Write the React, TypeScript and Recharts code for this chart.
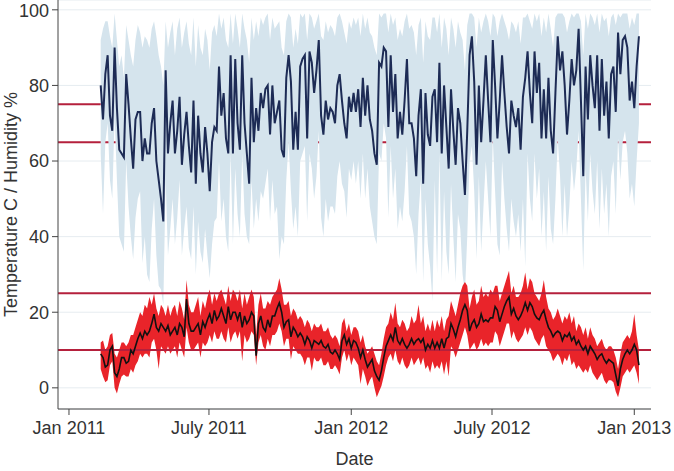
import React from 'react';
import { ComposedChart, Area, Line, XAxis, YAxis, CartesianGrid, ReferenceLine } from 'recharts';

// Day offsets since 1 Jan 2011 (sampled every 3 days)
const days = [
  41,44,47,50,53,56,59,62,65,68,
  71,74,77,80,83,86,89,92,95,98,
  101,104,107,110,113,116,119,122,125,128,
  131,134,137,140,143,146,149,152,155,158,
  161,164,167,170,173,176,179,182,185,188,
  191,194,197,200,203,206,209,212,215,218,
  221,224,227,230,233,236,239,242,245,248,
  251,254,257,260,263,266,269,272,275,278,
  281,284,287,290,293,296,299,302,305,308,
  311,314,317,320,323,326,329,332,335,338,
  341,344,347,350,353,356,359,362,365,368,
  371,374,377,380,383,386,389,392,395,398,
  401,404,407,410,413,416,419,422,425,428,
  431,434,437,440,443,446,449,452,455,458,
  461,464,467,470,473,476,479,482,485,488,
  491,494,497,500,503,506,509,512,515,518,
  521,524,527,530,533,536,539,542,545,548,
  551,554,557,560,563,566,569,572,575,578,
  581,584,587,590,593,596,599,602,605,608,
  611,614,617,620,623,626,629,632,635,638,
  641,644,647,650,653,656,659,662,665,668,
  671,674,677,680,683,686,689,692,695,698,
  701,704,707,710,713,716,719,722,725,728,731,734,737,
];

// Humidity % : daily mean, max, min
const humidityMean = [
  80,71,83,88,72,68,90,74,63,62,
  61,83,75,66,58,71,73,73,60,66,
  62,62,70,74,60,55,50,44,84,62,
  70,76,62,68,77,59,67,73,64,57,
  76,54,72,62,57,69,62,52,65,69,
  68,85,72,78,66,62,88,62,87,70,
  63,88,70,62,54,82,65,74,68,78,
  74,79,80,67,80,70,73,76,63,61,
  82,88,81,63,73,63,85,87,88,66,
  89,86,78,84,92,72,67,76,71,74,
  73,70,80,83,76,70,66,77,73,78,
  73,79,69,82,72,80,71,68,62,59,
  86,85,90,89,69,88,73,83,66,73,
  67,76,87,70,70,66,56,72,79,54,
  78,67,64,77,79,65,86,62,80,69,
  58,79,68,59,74,70,60,51,68,88,
  93,81,59,80,65,76,88,76,65,92,
  80,66,76,88,78,69,62,76,72,69,
  74,63,77,82,89,78,70,89,78,86,
  66,79,66,82,68,62,78,93,84,89,
  80,67,76,87,80,84,95,76,56,85,
  71,88,80,74,88,68,87,72,81,66,
  83,85,73,94,83,92,93,90,76,81,74,85,93,
];
const humidityMax = [
  92,95,97,97,93,90,99,92,85,88,
  82,96,92,88,85,92,96,94,90,93,
  92,90,95,97,93,88,85,80,97,90,
  94,97,88,95,98,90,94,97,91,88,
  98,85,96,90,88,95,92,84,94,96,
  93,99,95,98,92,90,99,91,99,95,
  90,99,95,92,86,98,92,97,93,98,
  96,98,99,92,98,95,96,97,90,88,
  97,99,98,90,95,91,99,98,99,92,
  99,98,95,97,99,93,92,97,94,96,
  95,93,98,99,97,94,91,97,95,98,
  96,98,93,99,95,98,94,93,90,88,
  99,98,99,99,94,99,96,98,92,95,
  93,97,99,95,96,94,88,96,98,86,
  97,93,92,98,98,94,99,90,98,95,
  88,98,95,90,97,94,92,84,96,99,
  99,98,90,98,94,97,99,97,93,99,
  98,93,97,99,97,95,92,97,96,94,
  97,91,98,98,99,97,95,99,97,99,
  93,98,94,99,95,90,98,99,99,99,
  98,94,97,99,98,99,99,97,88,99,
  95,99,98,96,99,94,99,97,98,93,
  98,99,96,99,98,99,99,99,95,98,96,99,99,
];
const humidityMin = [
  62,46,65,70,55,50,72,55,40,38,
  36,60,48,40,34,45,50,52,33,40,
  30,28,42,50,35,27,26,22,55,35,
  42,50,38,45,55,35,42,48,37,34,
  48,30,44,36,33,42,35,29,38,44,
  45,60,44,50,40,36,62,38,58,46,
  40,62,46,40,38,55,42,50,44,52,
  50,54,58,44,55,46,48,34,40,38,
  55,65,52,42,48,40,60,62,64,44,
  62,58,50,56,68,45,40,50,44,48,
  48,46,56,60,54,52,45,58,55,60,
  54,60,50,62,50,58,48,44,40,38,
  62,60,70,66,45,64,50,58,42,48,
  44,52,64,46,44,40,30,46,55,28,
  50,38,32,23,55,30,62,28,52,36,
  30,54,40,28,46,42,30,25,40,60,
  64,52,34,56,36,48,60,50,40,66,
  52,38,35,60,50,42,36,50,44,40,
  46,36,50,32,62,50,44,62,50,58,
  40,52,36,56,42,38,50,66,56,40,
  54,40,48,60,52,58,68,50,31,58,
  44,62,52,46,60,42,58,46,54,40,
  56,60,46,66,55,65,68,62,50,54,48,60,70,
];

// Temperature C : daily mean, max, min
const tempMean = [
  9,8,5.5,6,10,11,4,3,5,8,
  8,6.5,7,10,9,11,13,14.5,13,15,
  14,15,17,19.5,16,15,17,16,15,16.5,
  14,15,16,14,17,16,13.5,23.5,17,15,
  15,16,17,14,17.5,16,18,19.5,17,20.5,
  18,19,21,19,17,21.5,18,20,20,18,
  20,16,19,17,18,20,19,8.5,17,19,
  16,15,18,16,19,19,21,22.5,20,16,
  17.5,18,13.5,16,15,13.5,14.5,13.5,11.5,13.5,
  12.5,10.5,12.5,12,11.5,12.5,11,10.5,11.5,9.5,
  9,10,9,7.5,12.5,14,11.5,13,10.5,12.5,
  12,10.5,8,10,7.5,5.5,6.5,7.5,4.5,3,
  2,4.5,8,11,12.5,14,12.5,16,12.5,11.5,
  13,11.5,10.5,11.5,13,11.5,12.5,13,12,13,
  10,11.5,10.5,12.5,10.5,12,10.5,13,10.5,13,
  13.5,17,15.5,13.5,16,18,20.5,22,20.5,15,
  17,18,16,17,19.5,17.5,18,17.5,18.5,18.5,
  21.5,20.5,17.5,19.5,21.5,23,24,19.5,21,19,
  18,19,20.5,22.5,20.5,22.5,21.5,19.5,18.5,18,
  19.5,20.5,18,16,15,13.5,14.5,15,14.5,12.5,
  14,13.5,14.5,12.5,13.5,11.5,12.5,11,10,11,
  9,11,10,9,7.5,8.5,9,7.5,6.5,7.5,
  7,6.5,3.5,0.5,5,7.5,9,10,9,10,11.5,10,6,
];
const tempMax = [
  12,12.5,10,11,14,14.5,9,8,10,12,
  12,11,12,14,14,16,18,20,19,22,
  21,24,22,25,21,19,22,21,19,22,
  19,21,22,19,23,21,18,28.5,22,20,
  20,22,24,19,23,21,24,26,22,25,
  23,25,26,24,22,27,23,26,25,23,
  26,21,25,22,24,26,24,14,22,25,
  21,21,23,22,24,25,26,29,26,22,
  22,23,19,21,20,18,19,18,16,18,
  17,15,17,16,16,17,15,15,16,14,
  13,14,13,11,17,18.5,15,17,14,16,
  16,15,12,14,11,9,10,11,9,7,
  6,9,13,16,17,20,18,22.5,17,16,
  18,17,15,16,19,17,18,22,17,19,
  15,17,15,18,15,18,16,19,15,18,
  19,23,21,19,22,25,27,28,27,21,
  24,26,22,23,27,24,25,24,26,25,
  27,27,23,25,27,29,31,25,27,24,
  24,25,27,30.5,26,29,28,25,24,23,
  25,28.5,24,21,20,18,19,21,19,17,
  19,18,20,17,19,15,17,16,14,16,
  13,16,14,13,11,12,13,11,10,11,
  11,10,8,5,9,12,13,14,13,15,19.5,14,10,
];
const tempMin = [
  5,3,1.5,2,6,7,0,-1.5,1,3,
  3.5,3,3,5,4,6,7,9,8,9,
  9,8,12,13,10,5,11,10,9,11,
  9,10,11,8,12,10,8,16,12,10,
  10,11,12,8,12,11,12,14,12,15,
  13,13,15,13,12,16,12,14,15,13,
  15,7,14,12,13,15,14,6,12,14,
  11,10,13,11,14,14,15,17,15,11,
  13,13,7.5,11,10,9,9,8,6,8,
  8,4.5,8,7,7,8,6,6,7,5,
  5,6,5,3.5,8,10,7,9,6,8,
  7,6,1,5,3,0.5,2,3,0,-2.5,
  -1,0.5,3,6,8,9,7,10,7,6,
  8,6,5,6,8,6,7,8,6,8,
  5,6,4,7,5,6,5,7,3.5,7,
  3,11,10,8,10,12,14,16,14,10,
  11,12,10,11,13,11,12,11,12,12,
  15,14,11,13,15,17,17,13,15,13,
  12,13,14,16,14,16,15,13,12,11,
  13,14,11,10,9,7,8,9,8,6,
  8,7,9,6,7,5,6,5,4,5,
  4,6,4,3,2,3,4,2,1,2,
  2,1.5,-1,-2.5,0,3,4,5,4,5,6,4,1,
];

const tickDays = [0, 181, 365, 547, 731];
const tickLabels = ['Jan 2011', 'July 2011', 'Jan 2012', 'July 2012', 'Jan 2013'];
const yTicks = [0, 20, 40, 60, 80, 100];
const humidityLevels = [75, 65];
const temperatureLevels = [25, 10];

const rows = days.map((d, i) => ({
  day: d,
  hRange: [humidityMin[i], humidityMax[i]],
  hm: humidityMean[i],
  tRange: [tempMin[i], tempMax[i]],
  tm: tempMean[i],
}));

const FONT = '"Liberation Sans", Arial, Helvetica, sans-serif';
const CRIMSON = '#b5203c';

export default function App() {
  return (
    <div style={{ position: 'absolute', left: 0, top: 0, fontFamily: FONT }}>
      <ComposedChart
        width={674}
        height={471}
        data={rows}
        margin={{ top: 0, right: 23, bottom: 4, left: 0 }}
      >
        <CartesianGrid horizontal vertical={false} stroke="#e6ecf0" strokeWidth={1} />
        <CartesianGrid
          horizontal
          vertical={false}
          horizontalValues={humidityLevels}
          stroke={CRIMSON}
          strokeWidth={2}
        />
        <XAxis
          dataKey="day"
          type="number"
          domain={[-14.2, 752.6]}
          allowDataOverflow
          ticks={tickDays}
          tickFormatter={(v: number) => tickLabels[tickDays.indexOf(v)]}
          tick={{ fontSize: 18, fill: '#333', fontFamily: FONT }}
          tickLine={{ stroke: '#444' }}
          axisLine={{ stroke: '#444' }}
          tickSize={6}
          tickMargin={6}
          height={58}
          label={{ value: 'Date', position: 'insideBottom', offset: 2, style: { fontSize: 18, fill: '#333', fontFamily: FONT } }}
        />
        <YAxis
          type="number"
          domain={[-5.6, 102.6]}
          allowDataOverflow
          ticks={yTicks}
          tick={{ fontSize: 18, fill: '#333', fontFamily: FONT }}
          tickLine={{ stroke: '#444' }}
          axisLine={{ stroke: '#444' }}
          tickSize={6}
          tickMargin={3}
          width={58}
          label={{ value: 'Temperature C / Humidity %', angle: -90, position: 'insideLeft', offset: 11, style: { textAnchor: 'middle', fontSize: 18, fill: '#333', fontFamily: FONT } }}
        />
        <Area
          dataKey="hRange"
          type="linear"
          fill="#d5e4ed"
          fillOpacity={1}
          stroke="none"
          isAnimationActive={false}
        />
        <Line
          dataKey="hm"
          type="linear"
          stroke="#1d2b55"
          strokeWidth={2}
          dot={false}
          isAnimationActive={false}
        />
        <Area
          dataKey="tRange"
          type="linear"
          fill="#e9242a"
          fillOpacity={1}
          stroke="none"
          isAnimationActive={false}
        />
        {temperatureLevels.map((v) => (
          <ReferenceLine key={v} y={v} stroke={CRIMSON} strokeWidth={2} />
        ))}
        <Line
          dataKey="tm"
          type="linear"
          stroke="#111111"
          strokeWidth={1.6}
          dot={false}
          isAnimationActive={false}
        />
      </ComposedChart>
    </div>
  );
}
